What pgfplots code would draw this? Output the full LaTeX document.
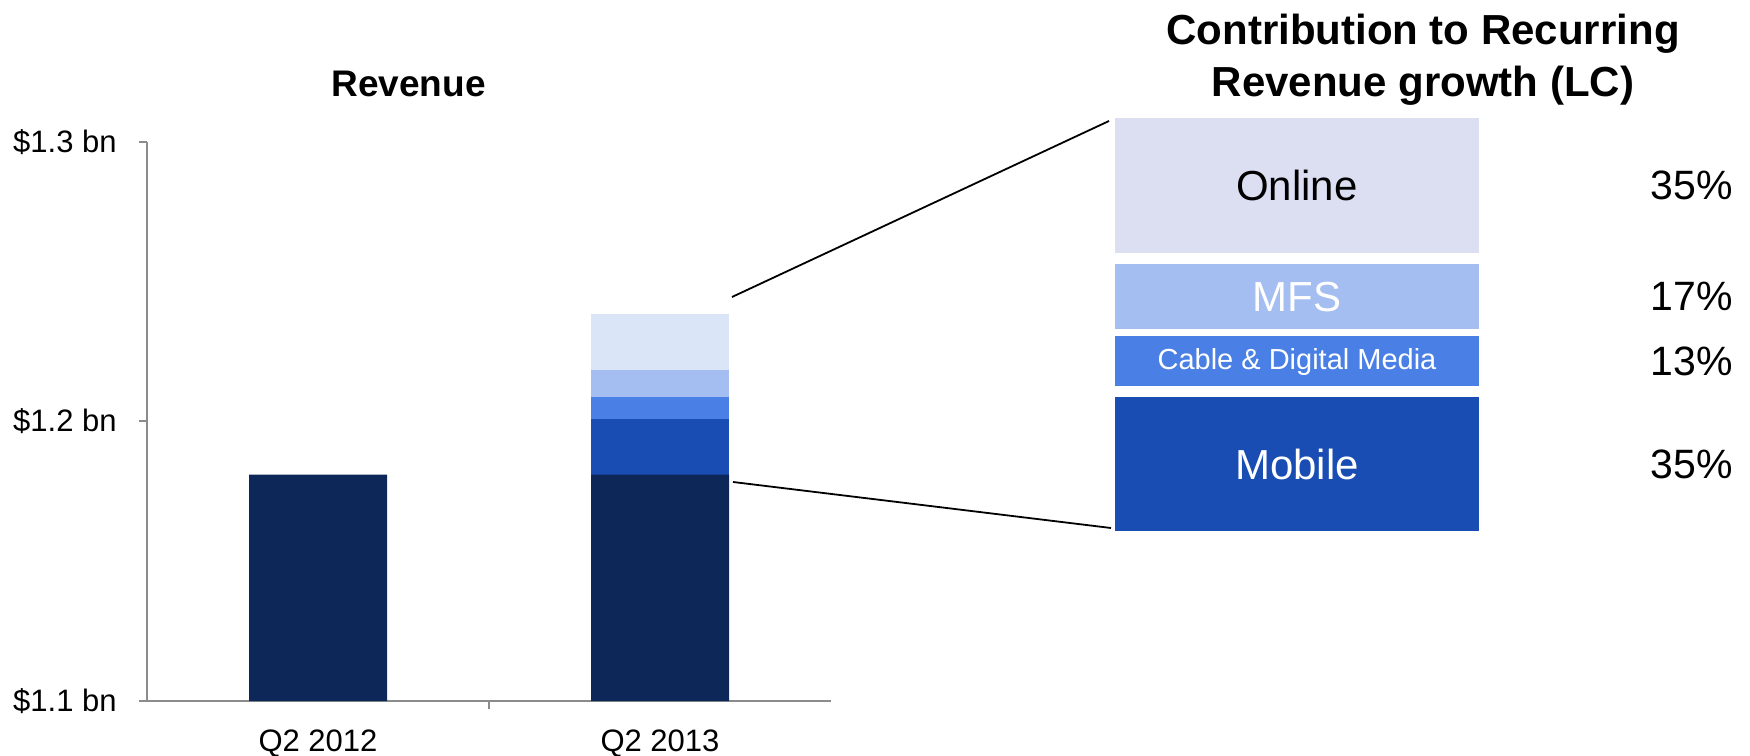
\documentclass[border=0pt]{standalone}
\usepackage{pgfplots}
\pgfplotsset{compat=1.18}
\usepackage{fontspec}
\setmainfont{Liberation Sans}
\definecolor{navy}{HTML}{0C2758}
\definecolor{mob}{HTML}{194DB3}
\definecolor{cab}{HTML}{4A80E5}
\definecolor{mfs}{HTML}{A4BEF2}
\definecolor{onl}{HTML}{DBE5F8}
\definecolor{onlbox}{HTML}{DCDFF2}
\definecolor{axgray}{HTML}{8C8C8C}
\newcommand{\PX}[2]{({(#1)*0.5pt},{(755-(#2))*0.5pt})}
\begin{document}
\begin{tikzpicture}
\useasboundingbox (0,0) rectangle (875pt,377.5pt);
% ---------- Revenue axis ----------
\begin{axis}[
  name=rev,
  at={(73.5pt,27pt)}, anchor=south west,
  scale only axis, width=342pt, height=279.5pt,
  xmin=-0.5, xmax=1.5, ymin=1.1, ymax=1.3,
  axis lines*=left,
  axis line style={axgray, line width=1pt},
  ytick={1.1,1.2,1.3}, yticklabels={\$1.1 bn,\$1.2 bn,\$1.3 bn},
  xtick={0,1}, xticklabels={Q2 2012,Q2 2013},
  tick align=outside, major tick length=4pt,
  x tick style={draw=none},
  y tick style={axgray, line width=1pt},
  ticklabel style={font=\fontsize{15.5}{18}\selectfont, inner sep=0pt},
  yticklabel shift=11pt,
  xticklabel shift=10pt,
  ybar stacked, bar width=69pt,
  clip mode=individual,
]
\addplot[fill=navy, draw=none] coordinates {(0,1.181) (1,1.181)};
\addplot[fill=mob, draw=none] coordinates {(0,0) (1,0.0200)};
\addplot[fill=cab, draw=none] coordinates {(0,0) (1,0.0076)};
\addplot[fill=mfs, draw=none] coordinates {(0,0) (1,0.0098)};
\addplot[fill=onl, draw=none] coordinates {(0,0) (1,0.0200)};
\end{axis}
\draw[axgray, line width=1pt] (rev.south) -- ++(0,-4pt);
% ---------- Contribution panel ----------
\begin{axis}[
  name=ctr,
  at={(557.5pt,111.9pt)}, anchor=south west,
  scale only axis, width=182pt, height=206.45pt,
  xmin=-0.5, xmax=0.5, ymin=0, ymax=107.5,
  hide axis, ybar stacked, bar width=182pt, clip=false,
]
\addplot[fill=mob, draw=none] coordinates {(0,35)};
\addplot[fill=none, draw=none] coordinates {(0,2.7)};
\addplot[fill=cab, draw=none] coordinates {(0,13)};
\addplot[fill=none, draw=none] coordinates {(0,1.9)};
\addplot[fill=mfs, draw=none] coordinates {(0,17)};
\addplot[fill=none, draw=none] coordinates {(0,2.9)};
\addplot[fill=onlbox, draw=none] coordinates {(0,35)};
\end{axis}
% box labels (on top of the boxes)
\node[font=\fontsize{21}{25}\selectfont, text=black] at \PX{1297}{185.5} {Online};
\node[font=\fontsize{21}{25}\selectfont, text=white] at \PX{1297}{296.7} {MFS};
\node[font=\fontsize{14.5}{17}\selectfont, text=white] at \PX{1297}{361.6} {Cable \& Digital Media};
\node[font=\fontsize{21}{25}\selectfont, text=white] at \PX{1297}{464} {Mobile};
\node[font=\fontsize{20.5}{24}\selectfont, anchor=east, inner sep=0pt] at \PX{1733}{185.5} {35\%};
\node[font=\fontsize{20.5}{24}\selectfont, anchor=east, inner sep=0pt] at \PX{1733}{296.7} {17\%};
\node[font=\fontsize{20.5}{24}\selectfont, anchor=east, inner sep=0pt] at \PX{1733}{361.6} {13\%};
\node[font=\fontsize{20.5}{24}\selectfont, anchor=east, inner sep=0pt] at \PX{1733}{464} {35\%};
% ---------- titles and connectors ----------
\node[font=\bfseries\fontsize{18.5}{22}\selectfont, anchor=base, inner sep=0pt] at \PX{408.5}{97} {Revenue};
\node[font=\bfseries\fontsize{21}{25}\selectfont, anchor=base, inner sep=0pt] at \PX{1423}{45} {Contribution to Recurring};
\node[font=\bfseries\fontsize{21}{25}\selectfont, anchor=base, inner sep=0pt] at \PX{1423}{96.5} {Revenue growth (LC)};
\draw[black, line width=0.9pt] \PX{732}{297} -- \PX{1109}{121};
\draw[black, line width=0.9pt] \PX{733}{482} -- \PX{1111}{528};
\end{tikzpicture}
\end{document}
